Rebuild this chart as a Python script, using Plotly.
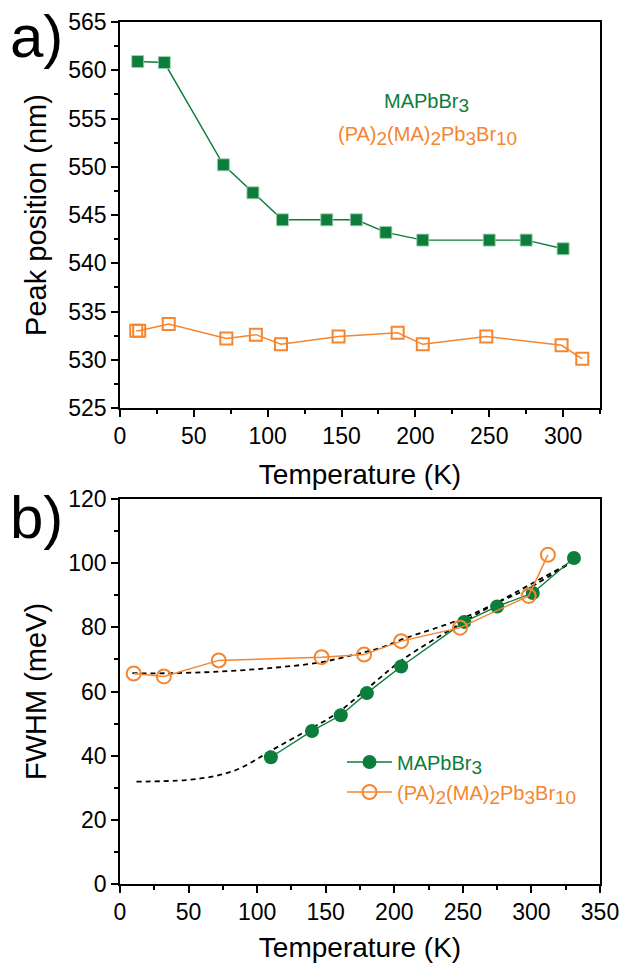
import plotly.graph_objects as go

# ---- (a) PL peak position vs temperature ----
temp_a_mapb = [12, 30, 70, 90, 110, 140, 160, 180, 205, 250, 275, 300]
peak_mapb = [560.9, 560.8, 550.2, 547.3, 544.5, 544.5, 544.5, 543.2, 542.4, 542.4, 542.4, 541.5]

temp_a_pa = [11, 13, 33, 72, 92, 109, 148, 188, 205, 248, 299, 313]
peak_pa = [533.0, 533.0, 533.7, 532.2, 532.6, 531.6, 532.4, 532.8, 531.6, 532.4, 531.5, 530.1]

# ---- (b) FWHM vs temperature ----
temp_b_mapb = [110, 140, 161, 180, 205, 251, 275, 301, 331]
fwhm_mapb = [39.5, 47.7, 52.6, 59.5, 67.8, 81.7, 86.5, 90.7, 101.6]

temp_b_pa = [10, 32, 72, 147, 178, 205, 248, 298, 312]
fwhm_pa = [65.6, 64.7, 69.7, 70.7, 71.5, 75.7, 79.9, 89.8, 102.6]

# fitted curves (dashed)
fit_temp_mapb = [12, 48, 70, 85, 97, 109, 133, 158, 180, 206, 243, 272, 301, 330]
fit_fwhm_mapb = [31.9, 32.4, 33.7, 35.6, 38.2, 41.3, 47.0, 53.2, 60.8, 69.9, 79.8, 87.0, 93.8, 100.5]

fit_temp_pa = [9, 36, 72, 109, 145, 170, 189, 208, 247, 277, 298, 330]
fit_fwhm_pa = [65.7, 65.7, 66.2, 67.3, 69.0, 71.4, 73.5, 76.6, 82.3, 88.1, 92.2, 100.5]

GREEN = "#0c7d3b"
ORANGE = "#f5862f"
FONT = "Liberation Sans, Arial, sans-serif"


def sub(s, size=19):
    # subscript kept close to full size
    return f'<sub><span style="font-size:{size}px">{s}</span></sub>'


NAME_MAPB = "MAPbBr" + sub("3")
NAME_PA = "(PA)" + sub("2") + "(MA)" + sub("2") + "Pb" + sub("3") + "Br" + sub("10")

fig = go.Figure()

# panel (a)
fig.add_trace(go.Scatter(
    x=temp_a_mapb, y=peak_mapb, mode="lines+markers", xaxis="x", yaxis="y",
    line=dict(color=GREEN, width=1.4),
    marker=dict(symbol="square", size=12, color=GREEN,
                line=dict(color="rgba(160,210,175,0.9)", width=1)),
    showlegend=False))
fig.add_trace(go.Scatter(
    x=temp_a_pa, y=peak_pa, mode="lines+markers", xaxis="x", yaxis="y",
    line=dict(color=ORANGE, width=1.5),
    marker=dict(symbol="square-open", size=12, color=ORANGE, line=dict(width=2)),
    showlegend=False))

# panel (b) fits
fig.add_trace(go.Scatter(
    x=fit_temp_mapb, y=fit_fwhm_mapb, mode="lines", xaxis="x2", yaxis="y2",
    line=dict(color="black", width=1.8, dash="5px,4px", shape="spline"),
    showlegend=False))
fig.add_trace(go.Scatter(
    x=fit_temp_pa, y=fit_fwhm_pa, mode="lines", xaxis="x2", yaxis="y2",
    line=dict(color="black", width=1.8, dash="5px,4px", shape="spline"),
    showlegend=False))

# panel (b) data, each with its own coloured legend entry
fig.add_trace(go.Scatter(
    x=temp_b_mapb, y=fwhm_mapb, mode="lines+markers", xaxis="x2", yaxis="y2",
    name=NAME_MAPB, legend="legend",
    line=dict(color=GREEN, width=1.4),
    marker=dict(symbol="circle", size=14, color=GREEN, line=dict(width=0))))
fig.add_trace(go.Scatter(
    x=temp_b_pa, y=fwhm_pa, mode="lines+markers", xaxis="x2", yaxis="y2",
    name=NAME_PA, legend="legend2",
    line=dict(color=ORANGE, width=1.5),
    marker=dict(symbol="circle-open", size=14, color=ORANGE, line=dict(width=2))))

axis_common = dict(
    showline=True, linecolor="black", linewidth=1.5, mirror=True,
    ticks="outside", ticklen=7, tickwidth=1.5, tickcolor="black",
    showgrid=False, zeroline=False, automargin=False,
    tickfont=dict(family=FONT, size=23, color="black"),
)
minor_common = dict(ticklen=4, tickwidth=1.5, tickcolor="black", ticks="outside")
title_font = dict(family=FONT, size=28, color="black")
ytitle_font = dict(family=FONT, size=29, color="black")

TOP_LO = 1 - (408 - 22) / 862
BOT_HI = 1 - (499 - 22) / 862


def px_x(px):
    return (px - 120) / 480


def px_y(py):
    return (884 - py) / 862


legend_common = dict(
    xanchor="left", yanchor="middle", bgcolor="rgba(0,0,0,0)", borderwidth=0,
    itemwidth=45,
)

fig.update_layout(
    width=622, height=963,
    margin=dict(l=120, r=22, t=22, b=79),
    paper_bgcolor="white", plot_bgcolor="white",
    font=dict(family=FONT, color="black"),
    xaxis=dict(**axis_common, domain=[0, 1], anchor="y", range=[0, 325],
               tick0=0, dtick=50, minor=dict(dtick=25, **minor_common),
               title=dict(text="Temperature (K)", font=title_font, standoff=16)),
    yaxis=dict(**axis_common, domain=[TOP_LO, 1], anchor="x", range=[525, 565],
               tick0=525, dtick=5, minor=dict(dtick=2.5, **minor_common),
               title=dict(text="Peak position (nm)", font=ytitle_font, standoff=13)),
    xaxis2=dict(**axis_common, domain=[0, 1], anchor="y2", range=[0, 350],
                tick0=0, dtick=50, minor=dict(dtick=25, **minor_common),
                title=dict(text="Temperature (K)", font=title_font, standoff=16)),
    yaxis2=dict(**axis_common, domain=[0, BOT_HI], anchor="x2", range=[0, 120],
                tick0=0, dtick=20, minor=dict(dtick=10, **minor_common),
                title=dict(text="FWHM (meV)", font=ytitle_font, standoff=13)),
    legend=dict(**legend_common, x=px_x(342), y=px_y(762),
                font=dict(family=FONT, size=20, color=GREEN)),
    legend2=dict(**legend_common, x=px_x(342), y=px_y(792),
                 font=dict(family=FONT, size=20, color=ORANGE)),
    annotations=[
        dict(text="a)", xref="paper", yref="paper", x=px_x(8), y=px_y(36),
             xanchor="left", yanchor="middle", showarrow=False,
             font=dict(family=FONT, size=60, color="black")),
        dict(text="b)", xref="paper", yref="paper", x=px_x(8), y=px_y(517),
             xanchor="left", yanchor="middle", showarrow=False,
             font=dict(family=FONT, size=60, color="black")),
        dict(text=NAME_MAPB, xref="x", yref="y", x=207.5, y=556.6,
             xanchor="center", yanchor="middle", showarrow=False,
             font=dict(family=FONT, size=20, color=GREEN)),
        dict(text=NAME_PA, xref="x", yref="y", x=208.5, y=553.2,
             xanchor="center", yanchor="middle", showarrow=False,
             font=dict(family=FONT, size=20, color=ORANGE)),
    ],
)

fig.write_html("out.html")
